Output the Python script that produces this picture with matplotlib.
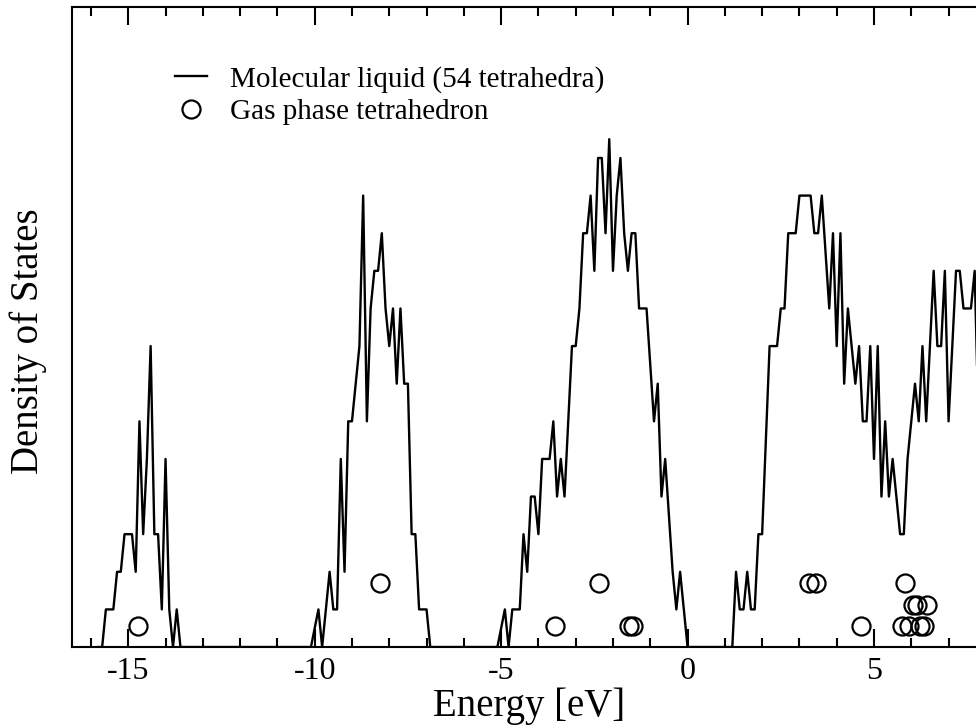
import numpy as np
import matplotlib
matplotlib.use("Agg")
import matplotlib.pyplot as plt

# density of states of the molecular liquid, 0.1 eV bins, one list per band
step = 0.1
band1_start = -15.8
band1 = [0, 0, 1, 1, 1, 2, 2, 3, 3, 3, 2, 6, 3, 5, 8, 3, 3, 1, 5, 1, 0, 1, 0]
band2_start = -10.1
band2 = [0, 0.5, 1, 0, 1, 2, 1, 1, 5, 2, 6, 6, 7, 8, 12, 6, 9, 10, 10, 11,
         9, 8, 9, 7, 9, 7, 7, 3, 3, 1, 1, 1, 0]
band3_start = -5.1
band3 = [0, 0.5, 1, 0, 1, 1, 1, 3, 2, 4, 4, 3, 5, 5, 5, 6, 4, 5, 4, 6,
         8, 8, 9, 11, 11, 12, 10, 13, 13, 11, 13.5, 10, 12, 13, 11, 10, 11, 11, 9, 9,
         9, 7.5, 6, 7, 4, 5, 3.5, 2, 1, 2, 1, 0]
band4_start = 1.1
band4 = [0, 0, 2, 1, 1, 2, 1, 1, 3, 3, 5.5, 8, 8, 8, 9, 9, 11, 11, 11, 12,
         12, 12, 12, 11, 11, 12, 10.5, 9, 11, 8, 11, 7, 9, 8, 7, 8, 6, 6, 8, 5,
         8, 4, 6, 4, 5, 4, 3, 3, 5, 6, 7, 6, 8, 6, 8, 10, 8, 8, 10, 6,
         8, 10, 10, 9, 9, 9, 10, 6]

# gas phase tetrahedron levels (height ~ degeneracy)
gas_energy = [-14.75, -8.26, -3.56, -2.37, -1.58, -1.47, 3.27, 3.45, 4.64,
              5.74, 5.83, 5.95, 6.05, 6.15, 6.23, 6.35, 6.43]
gas_height = [0.57, 1.7, 0.57, 1.7, 0.57, 0.57, 1.7, 1.7, 0.57,
              0.57, 1.7, 0.57, 1.13, 1.13, 0.57, 0.57, 1.13]

plt.rcParams['font.family'] = ['Liberation Serif', 'DejaVu Serif']
plt.rcParams['axes.unicode_minus'] = False

energy = []
dos = []
for start, vals in [(band1_start, band1), (band2_start, band2),
                    (band3_start, band3), (band4_start, band4)]:
    energy.extend(start + step * np.arange(len(vals)))
    dos.extend(vals)

fig = plt.figure(figsize=(9.76, 7.27), dpi=100)
ax = fig.add_axes([0.0741, 0.110, 0.936, 0.8797])

ax.plot(energy, dos, color='black', lw=1.7, label='Molecular liquid (54 tetrahedra)')
ax.plot(gas_energy, gas_height, linestyle='none', marker='o', ms=13,
        mfc='none', mec='black', mew=1.6, label='Gas phase tetrahedron')

ax.set_xlim(-16.5, 8.0)
ax.set_ylim(0, 17)
ax.set_xticks([-15, -10, -5, 0, 5])
ax.set_xticks(np.arange(-16, 9, 1), minor=True)
ax.set_yticks([])
ax.tick_params(axis='x', which='both', direction='in', top=True, bottom=True,
               width=1.5, labelsize=23, pad=7)
ax.tick_params(axis='x', which='major', length=13)
ax.tick_params(axis='x', which='minor', length=6.5)
for sp in ax.spines.values():
    sp.set_linewidth(1.5)

ax.set_xlabel('Energy [eV]', fontsize=28, labelpad=1)
ax.set_ylabel('Density of States', fontsize=28)
ax.yaxis.set_label_coords(-0.028, 0.478)

ax.legend(loc='upper left', bbox_to_anchor=(0.112, 0.909), frameon=False,
          fontsize=21, handlelength=1.1, handletextpad=0.8, labelspacing=0.22,
          borderpad=0, borderaxespad=0)

fig.savefig('out.png', dpi=100)
